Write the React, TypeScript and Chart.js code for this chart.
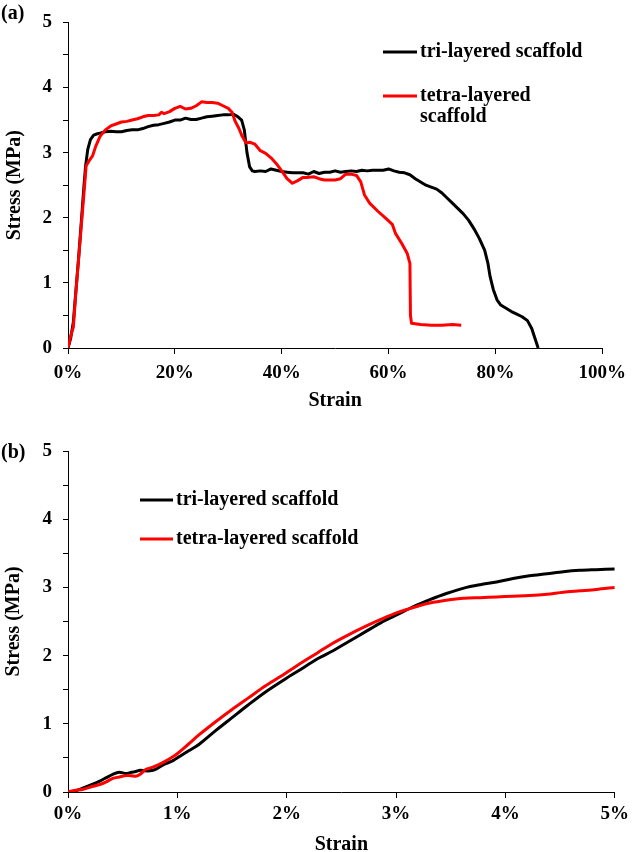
import { useEffect, useRef } from "react";
import { Chart, registerables } from "chart.js";

Chart.register(...registerables);

const FONT = "'Liberation Serif', 'Times New Roman', serif";

// ---------- Panel (a): full stress-strain curves ----------
const triStrainA = [0, 0.5, 1, 1.5, 2, 2.5, 3, 3.3, 3.7, 4.2, 4.8, 5.5, 6, 7, 8, 9, 10, 11, 12, 13, 14, 15, 16, 17, 18, 19, 20, 21, 22, 23, 24, 25, 26, 27, 28, 29, 30, 31, 31.8, 32.5, 33, 33.5, 34, 34.5, 35, 36, 37, 38, 39, 40, 41, 42, 43, 44, 45, 46, 47, 48, 49, 50, 51, 52, 53, 54, 55, 56, 57, 58, 59, 60, 61, 62, 63, 64, 65, 66, 67, 68, 69, 70, 71, 72, 73, 74, 75, 76, 77, 78, 78.6, 79, 79.6, 80.3, 81, 82, 83, 84, 85, 86, 86.8, 87.4, 88];
const triStressA = [0, 0.15, 0.4, 0.9, 1.4, 1.95, 2.5, 2.8, 3.05, 3.2, 3.27, 3.29, 3.3, 3.32, 3.33, 3.32, 3.32, 3.34, 3.35, 3.35, 3.37, 3.4, 3.42, 3.43, 3.45, 3.47, 3.5, 3.5, 3.53, 3.51, 3.51, 3.53, 3.55, 3.56, 3.57, 3.58, 3.58, 3.59, 3.55, 3.5, 3.35, 3.0, 2.78, 2.72, 2.71, 2.72, 2.71, 2.75, 2.73, 2.71, 2.7, 2.69, 2.69, 2.69, 2.67, 2.71, 2.68, 2.7, 2.7, 2.72, 2.7, 2.71, 2.72, 2.71, 2.73, 2.72, 2.73, 2.73, 2.73, 2.75, 2.72, 2.7, 2.69, 2.66, 2.6, 2.55, 2.5, 2.47, 2.44, 2.38, 2.3, 2.22, 2.14, 2.06, 1.96, 1.83, 1.68, 1.5, 1.3, 1.1, 0.9, 0.74, 0.66, 0.61, 0.56, 0.52, 0.48, 0.42, 0.3, 0.15, 0];

const tetraStrainA = [0, 0.4, 0.8, 1.0, 1.5, 2, 2.5, 3, 3.4, 4, 4.6, 5.2, 6, 7, 8, 9, 10, 11, 12, 13, 14, 15, 16, 17, 17.5, 18, 19, 20, 21, 22, 23, 24, 25, 26, 27, 28, 29, 30, 30.7, 31.3, 32, 32.6, 33.3, 34, 35, 36, 37, 38, 39, 40, 41, 42, 43, 44, 45, 46, 47, 48, 49, 50, 51, 52, 53, 54, 54.8, 55.5, 56.5, 58, 59.5, 60.7, 61.3, 62.5, 63.5, 64, 64.1, 64.3, 66, 68, 70, 72, 73.6];
const tetraStressA = [0, 0.15, 0.27, 0.32, 0.88, 1.38, 1.89, 2.39, 2.8, 2.88, 2.95, 3.1, 3.25, 3.35, 3.41, 3.44, 3.47, 3.48, 3.5, 3.52, 3.55, 3.57, 3.57, 3.58, 3.62, 3.6, 3.63, 3.68, 3.71, 3.67, 3.68, 3.72, 3.78, 3.77, 3.77, 3.76, 3.72, 3.68, 3.62, 3.48, 3.37, 3.25, 3.15, 3.16, 3.13, 3.03, 2.99, 2.92, 2.83, 2.72, 2.6, 2.53, 2.57, 2.62, 2.62, 2.63, 2.6, 2.58, 2.58, 2.58, 2.6, 2.67, 2.67, 2.65, 2.55, 2.35, 2.22, 2.1, 1.99, 1.9, 1.76, 1.6, 1.45, 1.3, 0.5, 0.38, 0.36, 0.35, 0.35, 0.36, 0.35];

// ---------- Panel (b): initial region (0-5 % strain) ----------
const triStrainB = [0, 0.05, 0.14, 0.22, 0.29, 0.35, 0.41, 0.47, 0.53, 0.58, 0.62, 0.66, 0.7, 0.75, 0.8, 0.85, 0.9, 0.96, 1.02, 1.1, 1.2, 1.35, 1.5, 1.65, 1.8, 1.98, 2.1, 2.29, 2.41, 2.56, 2.71, 2.86, 3.01, 3.16, 3.31, 3.46, 3.62, 3.77, 3.92, 4.07, 4.22, 4.38, 4.53, 4.68, 4.83, 5];
const triStressB = [0, 0.01, 0.06, 0.11, 0.16, 0.21, 0.26, 0.29, 0.27, 0.29, 0.3, 0.32, 0.31, 0.31, 0.33, 0.38, 0.42, 0.46, 0.52, 0.6, 0.7, 0.9, 1.09, 1.28, 1.46, 1.65, 1.77, 1.96, 2.06, 2.2, 2.34, 2.48, 2.6, 2.72, 2.82, 2.91, 2.99, 3.04, 3.08, 3.13, 3.17, 3.2, 3.23, 3.25, 3.26, 3.27];

const tetraStrainB = [0, 0.05, 0.14, 0.22, 0.29, 0.35, 0.41, 0.47, 0.53, 0.58, 0.62, 0.66, 0.71, 0.77, 0.83, 0.9, 0.99, 1.1, 1.2, 1.35, 1.5, 1.65, 1.8, 1.95, 2.1, 2.29, 2.41, 2.56, 2.71, 2.86, 3.01, 3.19, 3.31, 3.46, 3.62, 3.77, 3.92, 4.07, 4.22, 4.38, 4.53, 4.68, 4.83, 5];
const tetraStressB = [0, 0.02, 0.04, 0.08, 0.11, 0.15, 0.2, 0.22, 0.24, 0.24, 0.23, 0.26, 0.33, 0.36, 0.4, 0.46, 0.55, 0.7, 0.84, 1.03, 1.21, 1.38, 1.55, 1.7, 1.86, 2.05, 2.17, 2.3, 2.42, 2.53, 2.63, 2.72, 2.77, 2.81, 2.84, 2.85, 2.86, 2.87, 2.88, 2.9, 2.93, 2.95, 2.97, 3.0];

const seriesLabels = ["tri-layered scaffold", "tetra-layered scaffold"];
const seriesColors = ["#000000", "#ff0000"];
const yTickValues = [0, 1, 2, 3, 4, 5];

function toPoints(xs: number[], ys: number[]) {
  return xs.map((x, i) => ({ x, y: ys[i] }));
}

function wrapText(ctx: CanvasRenderingContext2D, text: string, maxWidth: number) {
  const words = text.split(" ");
  const lines: string[] = [];
  let cur = "";
  for (const w of words) {
    const test = cur ? cur + " " + w : w;
    if (ctx.measureText(test).width > maxWidth && cur) {
      lines.push(cur);
      cur = w;
    } else cur = test;
  }
  if (cur) lines.push(cur);
  return lines;
}

type LegendCfg = {
  panel: string;
  panelX: number;
  panelY: number;
  x: number;
  ys: number[];
  lineLen: number;
  gap: number;
  maxWidth: number;
  lineHeight: number;
};

function makeDecorPlugin(cfg: LegendCfg) {
  return {
    id: "decor",
    afterDraw(chart: any) {
      const ctx: CanvasRenderingContext2D = chart.ctx;
      ctx.save();
      ctx.font = `bold 20px ${FONT}`;
      ctx.textBaseline = "middle";
      ctx.textAlign = "left";
      chart.data.datasets.forEach((ds: any, i: number) => {
        const y = cfg.ys[i];
        ctx.strokeStyle = ds.borderColor;
        ctx.lineWidth = 3;
        ctx.beginPath();
        ctx.moveTo(cfg.x, y);
        ctx.lineTo(cfg.x + cfg.lineLen, y);
        ctx.stroke();
        ctx.fillStyle = "#000";
        const lines = wrapText(ctx, ds.label, cfg.maxWidth);
        lines.forEach((ln, j) => ctx.fillText(ln, cfg.x + cfg.lineLen + cfg.gap, y + j * cfg.lineHeight));
      });
      ctx.fillStyle = "#000";
      ctx.fillText(cfg.panel, cfg.panelX, cfg.panelY);
      ctx.restore();
    },
  };
}

type PanelCfg = {
  width: number;
  height: number;
  xMax: number;
  xStep: number;
  tri: { x: number; y: number }[];
  tetra: { x: number; y: number }[];
  area: { left: number; right: number; top: number; bottom: number };
  xTickPad: number;
  xTitlePad: number;
  yTitlePad: number;
  tension: number;
  legend: LegendCfg;
};

function buildChart(canvas: HTMLCanvasElement, p: PanelCfg) {
  const tickFont = { family: FONT, size: 19, weight: "bold" as const, lineHeight: 1.2 };
  const titleFont = { family: FONT, size: 20, weight: "bold" as const, lineHeight: 1 };
  return new Chart(canvas, {
    type: "scatter",
    data: {
      datasets: [
        {
          label: seriesLabels[0],
          data: p.tri,
          showLine: true,
          borderColor: seriesColors[0],
          backgroundColor: seriesColors[0],
          borderWidth: 3,
          pointRadius: 0,
          tension: p.tension,
          borderJoinStyle: "round",
          order: 1,
        },
        {
          label: seriesLabels[1],
          data: p.tetra,
          showLine: true,
          borderColor: seriesColors[1],
          backgroundColor: seriesColors[1],
          borderWidth: 3,
          pointRadius: 0,
          tension: p.tension,
          borderJoinStyle: "round",
          order: 0,
        },
      ],
    },
    options: {
      responsive: false,
      animation: false,
      layout: {
        padding: { left: 0, top: p.area.top, right: p.width - p.area.right, bottom: 0 },
      },
      plugins: { legend: { display: false }, tooltip: { enabled: false } },
      scales: {
        x: {
          type: "linear",
          min: 0,
          max: p.xMax,
          afterFit: (s: any) => {
            s.height = p.height - p.area.bottom;
          },
          ticks: {
            stepSize: p.xStep,
            color: "#000",
            font: tickFont,
            padding: p.xTickPad,
            maxRotation: 0,
            callback: (v: any) => `${v}%`,
          },
          grid: { display: true, drawOnChartArea: false, drawTicks: true, tickLength: 6, color: "#000", lineWidth: 1 },
          border: { display: true, color: "#000", width: 1 },
          title: { display: true, text: "Strain", color: "#000", font: titleFont, padding: { top: 0, bottom: p.xTitlePad } },
        },
        y: {
          type: "linear",
          min: 0,
          max: 5,
          afterFit: (s: any) => {
            s.width = p.area.left;
          },
          ticks: {
            stepSize: 0.5,
            color: "#000",
            font: tickFont,
            padding: 11,
            callback: (v: any) => (yTickValues.includes(Number(v)) ? String(v) : ""),
          },
          grid: { display: true, drawOnChartArea: false, drawTicks: true, tickLength: 5, color: "#000", lineWidth: 1 },
          border: { display: true, color: "#000", width: 1 },
          title: { display: true, text: "Stress (MPa)", color: "#000", font: titleFont, padding: { top: p.yTitlePad, bottom: 0 } },
        },
      },
    },
    plugins: [makeDecorPlugin(p.legend)],
  } as any);
}

export default function App() {
  const refA = useRef<HTMLCanvasElement>(null);
  const refB = useRef<HTMLCanvasElement>(null);

  useEffect(() => {
    const a = buildChart(refA.current!, {
      width: 634,
      height: 420,
      xMax: 100,
      xStep: 20,
      tri: toPoints(triStrainA, triStressA),
      tetra: toPoints(tetraStrainA, tetraStressA),
      area: { left: 68, right: 610, top: 13, bottom: 348 },
      xTickPad: 8,
      xTitlePad: 9,
      yTitlePad: 5,
      tension: 0,
      legend: { panel: "(a)", panelX: 1, panelY: 14, x: 383, ys: [52, 96], lineLen: 34, gap: 3, maxWidth: 172, lineHeight: 21 },
    });
    const b = buildChart(refB.current!, {
      width: 634,
      height: 432,
      xMax: 5,
      xStep: 1,
      tri: toPoints(triStrainB, triStressB),
      tetra: toPoints(tetraStrainB, tetraStressB),
      area: { left: 68, right: 619, top: 31, bottom: 372 },
      xTickPad: 5,
      xTitlePad: -3,
      yTitlePad: 4,
      tension: 0.3,
      legend: { panel: "(b)", panelX: 1, panelY: 33, x: 140, ys: [80, 119], lineLen: 33, gap: 3, maxWidth: 400, lineHeight: 21 },
    });
    return () => {
      a.destroy();
      b.destroy();
    };
  }, []);

  return (
    <div style={{ position: "absolute", left: 0, top: 0, width: 634, height: 852, background: "#fff" }}>
      <canvas ref={refA} width={634} height={420} style={{ position: "absolute", left: 0, top: 0, width: 634, height: 420 }} />
      <canvas ref={refB} width={634} height={432} style={{ position: "absolute", left: 0, top: 420, width: 634, height: 432 }} />
    </div>
  );
}
